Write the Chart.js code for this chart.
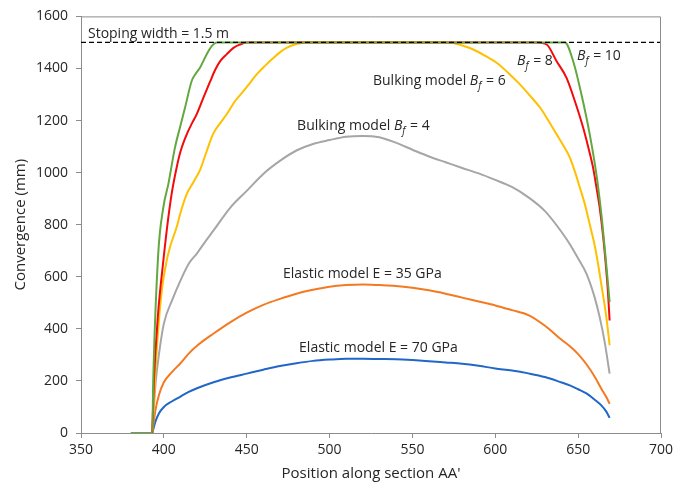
<!DOCTYPE html>
<html>
<head>
<meta charset="utf-8">
<script src="https://cdn.jsdelivr.net/npm/chart.js@4/dist/chart.umd.min.js"></script>
<style>
  html, body { margin: 0; padding: 0; background: #fff; }
  #wrap { width: 688px; height: 485px; }
</style>
</head>
<body>
<div id="wrap"><canvas id="chart"></canvas></div>
<script>
// position along section (x) and convergence in mm (y) for each model
const e70X = [393, 395, 397, 400, 405, 410, 415, 420, 430, 440, 450, 460, 470, 480, 490, 500, 510, 520, 530, 540, 550, 560, 570, 580, 590, 600, 610, 620, 630, 640, 645, 650, 655, 660, 664, 667, 669];
const e70Y = [0, 45, 75, 100, 122, 140, 158, 172, 195, 213, 228, 243, 257, 268, 277, 282, 285, 285, 284, 283, 280, 276, 271, 266, 258, 248, 240, 229, 215, 194, 183, 168, 152, 128, 106, 82, 58];

const e35X = [393, 395, 397, 400, 405, 410, 415, 420, 430, 440, 450, 460, 470, 480, 490, 500, 510, 520, 530, 540, 550, 560, 570, 580, 590, 600, 610, 620, 630, 640, 645, 650, 655, 660, 664, 667, 669];
const e35Y = [0, 90, 145, 195, 235, 268, 305, 335, 382, 425, 462, 492, 515, 535, 550, 562, 568, 570, 568, 565, 558, 548, 535, 520, 505, 490, 472, 453, 412, 358, 333, 303, 264, 216, 170, 138, 112];

const bf4X = [393, 395, 397, 400, 405, 410, 415, 420, 425, 430, 440, 450, 460, 470, 480, 490, 500, 510, 520, 530, 540, 550, 560, 570, 580, 590, 600, 610, 620, 630, 640, 645, 650, 655, 660, 663, 666, 669];
const bf4Y = [0, 190, 300, 420, 510, 585, 650, 690, 735, 778, 865, 930, 995, 1045, 1085, 1110, 1125, 1138, 1141, 1136, 1115, 1088, 1062, 1040, 1018, 997, 972, 945, 905, 852, 772, 725, 670, 612, 520, 445, 350, 228];

const bf6X = [393, 395, 397, 399, 401.7, 404, 407.7, 410, 413.8, 418, 421.8, 426, 429.8, 434, 437.9, 443, 448, 452, 456, 461, 466, 470, 474, 480, 485, 572, 580, 587, 594, 601, 608, 615, 621, 627, 632, 637, 641, 645, 648, 651, 654, 656, 658, 660, 662, 664, 666, 667.5, 669];
const bf6Y = [0, 250, 430, 560, 662, 720, 790, 845, 917, 965, 1010, 1085, 1150, 1190, 1224, 1275, 1313, 1345, 1377, 1410, 1440, 1462, 1479, 1494, 1500, 1500, 1488, 1472, 1448, 1421, 1382, 1338, 1295, 1250, 1200, 1147, 1105, 1058, 1005, 943, 880, 828, 775, 720, 650, 570, 490, 420, 337];

const bf8X = [393, 394, 396.5, 399.7, 402.7, 405, 407.7, 410, 413.8, 417, 419.8, 424, 428, 431, 434, 438, 442, 446, 450, 625, 631, 637, 643, 648, 653, 656, 659, 661, 663, 665, 666.5, 668, 669];
const bf8Y = [0, 200, 458, 662, 828, 930, 1019, 1080, 1147, 1190, 1224, 1290, 1351, 1395, 1428, 1455, 1479, 1492, 1500, 1500, 1492, 1428, 1364, 1275, 1173, 1100, 1019, 945, 866, 760, 660, 540, 432];

const bf10X = [380, 393, 393.6, 396.6, 399.7, 402.7, 406.7, 410, 412.8, 416.8, 419, 421.8, 425.8, 428.9, 432, 642, 647, 652, 657, 661, 664, 666, 667.5, 669];
const bf10Y = [0, 0, 203, 688, 867, 956, 1096, 1180, 1250, 1352, 1378, 1403, 1454, 1486, 1500, 1500, 1428, 1300, 1147, 994, 841, 713, 610, 503];

const stopingX = [350, 700];
const stopingY = [1500, 1500];

const xTicks = [350, 400, 450, 500, 550, 600, 650, 700];
const yTicks = [0, 200, 400, 600, 800, 1000, 1200, 1400, 1600];

// text labels placed in data units; bf is the text after an italic B with subscript f
const notes = [
    { x: 354.2, y: 1531, pre: 'Stoping width = 1.5 m', bf: null },
    { x: 613.1, y: 1428, pre: '', bf: ' = 8' },
    { x: 649.3, y: 1447, pre: '', bf: ' = 10' },
    { x: 526.2, y: 1351, pre: 'Bulking model ', bf: ' = 6' },
    { x: 480.4, y: 1179, pre: 'Bulking model ', bf: ' = 4' },
    { x: 471.9, y: 612, pre: 'Elastic model E = 35 GPa', bf: null },
    { x: 481.6, y: 325, pre: 'Elastic model E = 70 GPa', bf: null }
];

const FONT = '"Open Sans", sans-serif';
const TXT = '#262626';
const AXIS = '#8c8c8c';
const NOTE_SIZE = 14;

const pts = (xs, ys) => xs.map((x, i) => ({ x: x, y: ys[i] }));

const line = (label, xs, ys, color, order) => ({
    label: label,
    data: pts(xs, ys),
    borderColor: color,
    borderWidth: 2,
    pointRadius: 0,
    cubicInterpolationMode: 'monotone',
    fill: false,
    order: order
});

const notesPlugin = {
    id: 'notes',
    afterDatasetsDraw(chart) {
        const c = chart.ctx;
        const a = chart.chartArea;
        const sx = chart.scales.x, sy = chart.scales.y;
        c.save();
        // frame on the top and right sides
        c.strokeStyle = AXIS;
        c.lineWidth = 1;
        c.beginPath();
        c.moveTo(a.left, a.top + 0.5);
        c.lineTo(a.right - 0.5, a.top + 0.5);
        c.lineTo(a.right - 0.5, a.bottom);
        c.stroke();

        c.fillStyle = TXT;
        c.textBaseline = 'middle';
        c.textAlign = 'left';
        notes.forEach(n => {
            let px = sx.getPixelForValue(n.x);
            const py = sy.getPixelForValue(n.y);
            c.font = NOTE_SIZE + 'px ' + FONT;
            c.fillText(n.pre, px, py);
            px += c.measureText(n.pre).width;
            if (n.bf) {
                c.font = 'italic ' + NOTE_SIZE + 'px ' + FONT;
                c.fillText('B', px, py);
                px += c.measureText('B').width;
                c.font = 'italic 10px ' + FONT;
                c.fillText('f', px, py + 5);
                px += c.measureText('f').width + 1;
                c.font = NOTE_SIZE + 'px ' + FONT;
                c.fillText(n.bf, px, py);
            }
        });
        c.restore();
    }
};

new Chart(document.getElementById('chart'), {
    type: 'line',
    data: {
        datasets: [
            Object.assign(line('Stoping width', stopingX, stopingY, '#000', 0), { borderWidth: 1.3, borderDash: [5, 3] }),
            line('Bf = 10', bf10X, bf10Y, '#62a83f', 1),
            line('Bf = 8', bf8X, bf8Y, '#f40a0a', 2),
            line('Bf = 6', bf6X, bf6Y, '#ffc000', 3),
            line('Bf = 4', bf4X, bf4Y, '#a6a6a6', 4),
            line('E = 35 GPa', e35X, e35Y, '#f47a22', 5),
            line('E = 70 GPa', e70X, e70Y, '#2167c9', 6)
        ]
    },
    options: {
        responsive: true,
        maintainAspectRatio: false,
        animation: false,
        layout: { padding: { top: 15, right: 27, left: 0, bottom: 0 } },
        plugins: {
            legend: { display: false },
            tooltip: { enabled: false }
        },
        scales: {
            x: {
                type: 'linear',
                min: 350,
                max: 700,
                afterBuildTicks: (s) => { s.ticks = xTicks.map(v => ({ value: v })); },
                afterFit: (s) => { s.height = 52; },
                grid: { drawOnChartArea: false, tickLength: 5, color: AXIS },
                border: { color: AXIS },
                ticks: { color: TXT, padding: 4, font: { family: FONT, size: 14 }, callback: (v) => String(v) },
                title: { display: true, text: "Position along section AA'", color: TXT, padding: { top: 0, bottom: 2 }, font: { family: FONT, size: 15 } }
            },
            y: {
                min: 0,
                max: 1600,
                afterBuildTicks: (s) => { s.ticks = yTicks.map(v => ({ value: v })); },
                afterFit: (s) => { s.width = 81; },
                grid: { drawOnChartArea: false, tickLength: 5, color: AXIS },
                border: { color: AXIS },
                ticks: { color: TXT, padding: 8, font: { family: FONT, size: 14 }, callback: (v) => String(v) },
                title: { display: true, text: 'Convergence (mm)', color: TXT, padding: { top: 12, bottom: 0 }, font: { family: FONT, size: 15 } }
            }
        }
    },
    plugins: [notesPlugin]
});
</script>
</body>
</html>
